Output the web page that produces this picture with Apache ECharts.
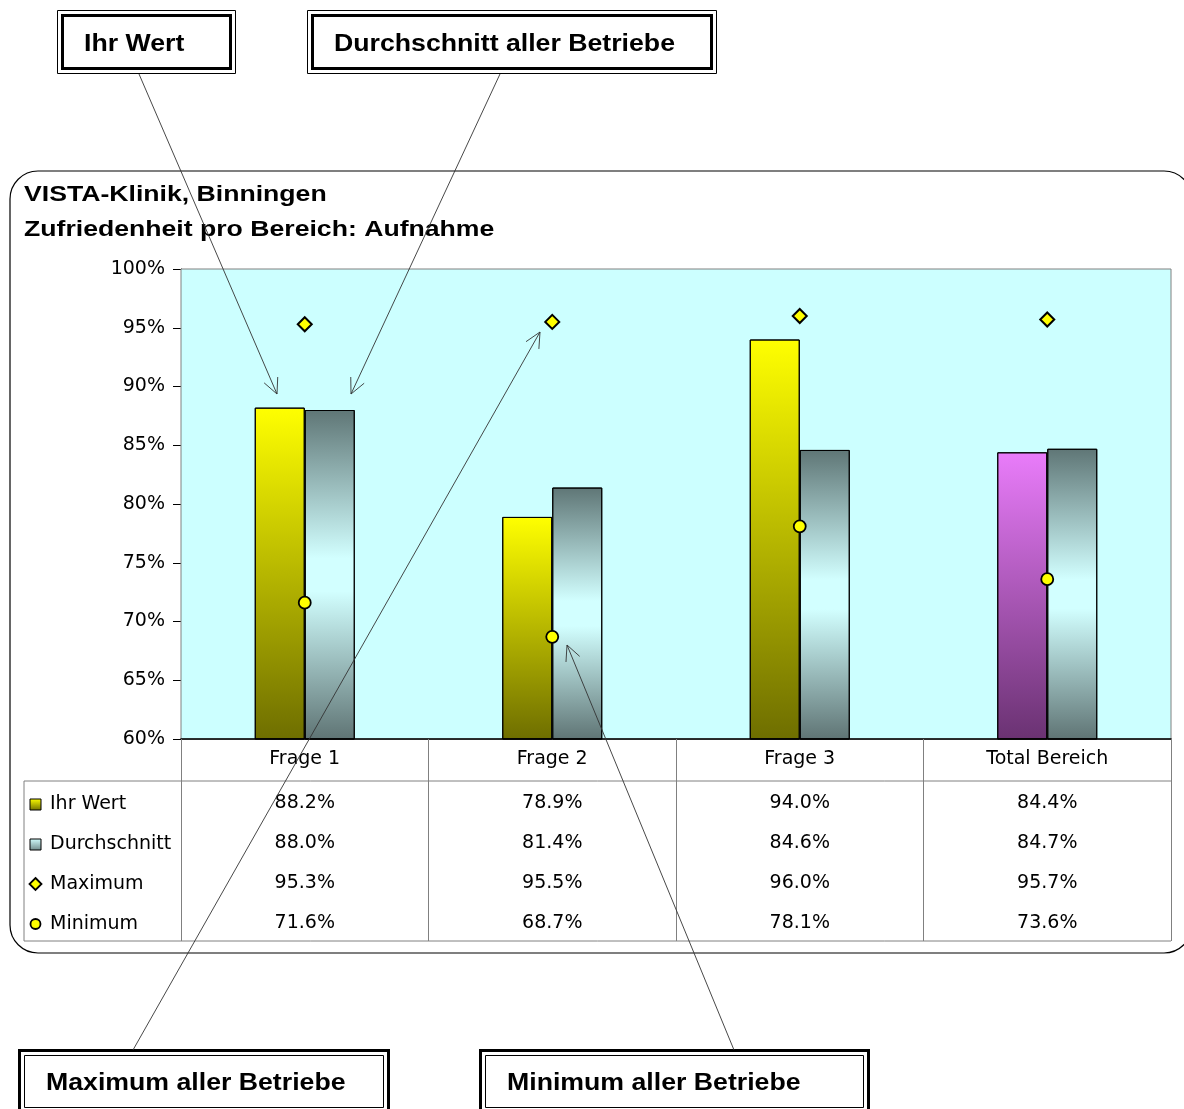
<!DOCTYPE html>
<html><head><meta charset="utf-8">
<script src="https://cdn.jsdelivr.net/npm/echarts@6/dist/echarts.min.js"></script>
<style>html,body{margin:0;padding:0;background:#fff}#c{width:1184px;height:1109px}</style>
</head><body><div id="c"></div>
<script>
var categories = ['Frage 1', 'Frage 2', 'Frage 3', 'Total Bereich'];
var ihrWert = [88.2, 78.9, 94.0, 84.4];
var durchschnitt = [88.0, 81.4, 84.6, 84.7];
var maximum = [95.3, 95.5, 96.0, 95.7];
var minimum = [71.6, 68.7, 78.1, 73.6];
var seriesNames = ['Ihr Wert', 'Durchschnitt', 'Maximum', 'Minimum'];
var titleLines = ['VISTA-Klinik, Binningen', 'Zufriedenheit pro Bereich: Aufnahme'];
var calloutTexts = ['Ihr Wert', 'Durchschnitt aller Betriebe', 'Maximum aller Betriebe', 'Minimum aller Betriebe'];

var FONT = '"Liberation Sans", Arial, sans-serif';
var RFONT = '"DejaVu Sans", sans-serif';
function grad(stops) {
  return new echarts.graphic.LinearGradient(0, 0, 0, 1, stops.map(function (s) { return { offset: s[0], color: s[1] }; }));
}
var yellowGrad = function () { return grad([[0, '#ffff00'], [1, '#6e6e00']]); };
var purpleGrad = function () { return grad([[0, '#e97cfa'], [1, '#6a3272']]); };
var grayGrad = function () { return grad([[0, '#5f7676'], [0.45, '#d2ffff'], [0.55, '#d2ffff'], [1, '#5f7474']]); };

var chart = echarts.init(document.getElementById('c'), null, { renderer: 'canvas' });
var option = {
  animation: false,
  backgroundColor: '#ffffff',
  textStyle: { fontFamily: RFONT },
  grid: { left: 181, right: 13, top: 269, bottom: 370, show: true, backgroundColor: '#ccffff', borderColor: '#808080', borderWidth: 1, z: 1 },
  xAxis: {
    type: 'category', data: categories,
    axisLine: { lineStyle: { color: '#000', width: 1.5 } },
    axisTick: { show: true, length: 202, lineStyle: { color: '#808080', width: 1 } },
    axisLabel: { fontSize: 19, color: '#000', margin: 11, fontFamily: RFONT },
    z: 3
  },
  yAxis: {
    type: 'value', min: 60, max: 100, interval: 5,
    axisLine: { show: true, lineStyle: { color: '#000', width: 1 } },
    axisTick: { show: true, length: 8, lineStyle: { color: '#000' } },
    axisLabel: { fontSize: 19, color: '#000', margin: 16, formatter: '{value}%', fontFamily: RFONT },
    splitLine: { lineStyle: { color: '#c0c0c0', width: 1 } }
  },
  series: [
    { name: seriesNames[0], type: 'bar', barWidth: 50, barGap: '0%',
      data: ihrWert.map(function (v, i) {
        return { value: v, itemStyle: { color: i === 3 ? purpleGrad() : yellowGrad() } };
      }),
      itemStyle: { borderColor: '#000', borderWidth: 1 }, z: 2 },
    { name: seriesNames[1], type: 'bar', barWidth: 50, barGap: '0%',
      data: durchschnitt,
      itemStyle: { color: grayGrad(), borderColor: '#000', borderWidth: 1 }, z: 2 },
    { name: seriesNames[2], type: 'scatter', data: maximum, symbol: 'diamond', symbolSize: [14, 14],
      itemStyle: { color: '#ffff00', borderColor: '#000', borderWidth: 2, opacity: 1 }, z: 4 },
    { name: seriesNames[3], type: 'scatter', data: minimum, symbol: 'circle', symbolSize: 12,
      itemStyle: { color: '#ffff00', borderColor: '#000', borderWidth: 1.8, opacity: 1 }, z: 4 }
  ]
};
chart.setOption(option);

// ---- graphics: frame, title, data table, callouts, arrows
var g = [];
var plotLeft = 181, plotRight = 1171, axisY = 739;
g.push({ type: 'rect', shape: { x: 10, y: 171, width: 1182, height: 782, r: 28 }, style: { fill: null, stroke: '#000', lineWidth: 1.2 }, z: 0, silent: true });
titleLines.forEach(function (t, i) {
  g.push({ type: 'text', x: 24, y: 195 + i * 35, scaleX: 1.21, style: { text: t, fill: '#000', font: 'bold 22px ' + FONT, textVerticalAlign: 'middle' }, z: 5 });
});

// table
var rowTop = 781, rowH = 40, tableLeft = 24;
function hline(y) { g.push({ type: 'line', shape: { x1: tableLeft, y1: y, x2: plotRight, y2: y }, style: { stroke: '#808080', lineWidth: 1 }, z: 3 }); }
hline(rowTop); hline(rowTop + 4 * rowH);
g.push({ type: 'line', shape: { x1: tableLeft, y1: rowTop, x2: tableLeft, y2: rowTop + 4 * rowH }, style: { stroke: '#808080', lineWidth: 1 }, z: 3 });
var rows = [ihrWert, durchschnitt, maximum, minimum];
rows.forEach(function (arr, r) {
  var cy = rowTop + r * rowH + 22;
  arr.forEach(function (v, i) {
    var cx = chart.convertToPixel({ xAxisIndex: 0 }, categories[i]);
    g.push({ type: 'text', x: cx, y: cy, style: { text: v.toFixed(1) + '%', fill: '#000', font: '19px ' + RFONT, textAlign: 'center', textVerticalAlign: 'middle' }, z: 5 });
  });
  g.push({ type: 'text', x: 50, y: cy + 1, style: { text: seriesNames[r], fill: '#000', font: '19px ' + RFONT, textVerticalAlign: 'middle' }, z: 5 });
});
// legend keys
var ky = function (r) { return rowTop + r * rowH + 23; };
g.push({ type: 'rect', shape: { x: 30, y: ky(0) - 5, width: 11, height: 11 }, style: { fill: grad([[0, '#ffff00'], [1, '#6e6e00']]), stroke: '#000', lineWidth: 1 }, z: 5 });
g.push({ type: 'rect', shape: { x: 30, y: ky(1) - 5, width: 11, height: 11 }, style: { fill: grad([[0, '#d2ffff'], [1, '#6f8a8a']]), stroke: '#000', lineWidth: 1 }, z: 5 });
g.push({ type: 'polygon', shape: { points: [[35.5, ky(2) - 6], [41.5, ky(2)], [35.5, ky(2) + 6], [29.5, ky(2)]] }, style: { fill: '#ffff00', stroke: '#000', lineWidth: 1.8 }, z: 5 });
g.push({ type: 'circle', shape: { cx: 35.5, cy: ky(3), r: 5 }, style: { fill: '#ffff00', stroke: '#000', lineWidth: 1.8 }, z: 5 });

// callout boxes
function box(x, y, w, h, text, tx, thickInner) {
  var outerW = thickInner ? 1 : 3, innerW = thickInner ? 3 : 1;
  g.push({ type: 'rect', shape: { x: x, y: y, width: w, height: h }, style: { fill: '#fff', stroke: '#000', lineWidth: outerW }, z: 6 });
  g.push({ type: 'rect', shape: { x: x + 5, y: y + 5, width: w - 10, height: h - 10 }, style: { fill: '#fff', stroke: '#000', lineWidth: innerW }, z: 6 });
  g.push({ type: 'text', x: tx, y: y + h / 2 + 2.5, scaleX: 1.16, style: { text: text, fill: '#000', font: 'bold 23px ' + FONT, textVerticalAlign: 'middle' }, z: 7 });
}
box(57.5, 10.5, 178, 63, calloutTexts[0], 84, true);
box(307.5, 10.5, 409, 63, calloutTexts[1], 334, true);
box(19.5, 1050.5, 369, 62, calloutTexts[2], 46, false);
box(480.5, 1050.5, 388, 62, calloutTexts[3], 507, false);

// arrows
function arrow(x1, y1, x2, y2) {
  g.push({ type: 'line', shape: { x1: x1, y1: y1, x2: x2, y2: y2 }, style: { stroke: '#333', lineWidth: 0.9 }, z: 8 });
  var ang = Math.atan2(y2 - y1, x2 - x1), L = 17, a = 0.45;
  var p1 = [x2 - L * Math.cos(ang - a), y2 - L * Math.sin(ang - a)];
  var p2 = [x2 - L * Math.cos(ang + a), y2 - L * Math.sin(ang + a)];
  g.push({ type: 'polyline', shape: { points: [p1, [x2, y2], p2] }, style: { stroke: '#333', lineWidth: 0.9, fill: null }, z: 8 });
}
arrow(139, 74, 277, 394);
arrow(500, 74, 351, 394);
arrow(133, 1050, 540, 332);
arrow(734, 1050, 567, 645);

chart.setOption({ graphic: g });
</script>
</body></html>
